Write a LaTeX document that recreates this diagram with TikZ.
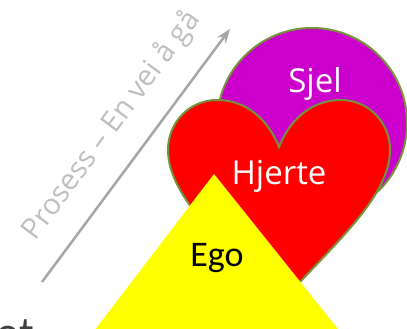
\documentclass[tikz,border=0pt]{standalone}
\usepackage{fontspec}
\setmainfont{Open Sans}
\newfontfamily\egofont{Carlito}
\usetikzlibrary{arrows.meta, positioning}
\definecolor{soulpurple}{HTML}{CC00CC}
\definecolor{heartred}{HTML}{FF0000}
\definecolor{egoyellow}{HTML}{FFFF00}
\definecolor{rimgreen}{HTML}{76923C}
\definecolor{pathgray}{HTML}{A6A6A6}
\definecolor{textgray}{HTML}{BFBFBF}
\definecolor{titlegray}{HTML}{404040}

\begin{document}
\begin{tikzpicture}[>=Stealth, x=1pt, y=1pt,
    rim/.style={draw=rimgreen, line width=2pt},
    inlabel/.style={anchor=base, text=white, font=\fontsize{33}{33}\selectfont}]
  \useasboundingbox (0,0) rectangle (407,329);
  \clip (0,0) rectangle (407,329);
  % soul
  \draw[rim, fill=soulpurple] (312,206) circle (95);
  \node[inlabel] (sjel) at (315,236) {Sjel};
  % heart
  \draw[rim, fill=heartred] (279,182)
    .. controls (288,205) and (308,229) .. (341,229)
    .. controls (368.6,229) and (390,206.6) .. (390,179)
    .. controls (390,130) and (328,80) .. (279,24)
    .. controls (230,80) and (168,130) .. (168,179)
    .. controls (168,206.6) and (189.4,229) .. (217,229)
    .. controls (250,229) and (270,205) .. cycle;
  \node[inlabel] (hjerte) at (279,144) {Hjerte};
  % ego
  \fill[egoyellow] (214,155) -- (346,-10) -- (88,-10) -- cycle;
  \node[anchor=base, font=\egofont\fontsize{36}{36}\selectfont] (ego) at (217,62) {Ego};
  % the way
  \coordinate (wayfrom) at (42,47);
  \coordinate (wayto) at (230,300);
  \draw[->, pathgray, line width=2.5pt] (wayfrom) -- (wayto)
    node[pos=0.53, sloped, anchor=base, yshift=29pt, text=textgray,
         font=\fontsize{29}{29}\selectfont] (prosess) {Prosess – En vei å gå};
  \node[anchor=base west, text=titlegray, inner sep=0pt,
        font=\egofont\fontsize{44}{44}\selectfont] (tail) at (-4,-19) {ot};
\end{tikzpicture}
\end{document}
